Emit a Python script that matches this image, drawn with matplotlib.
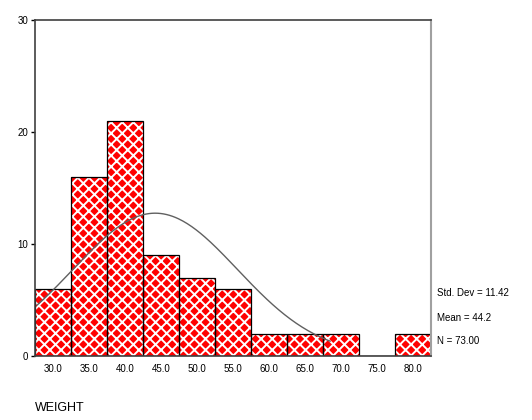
import numpy as np
import matplotlib.pyplot as plt

plt.rcParams['font.family'] = ['Liberation Sans', 'DejaVu Sans']
plt.rcParams['hatch.linewidth'] = 1.4

bin_centers = [30, 35, 40, 45, 50, 55, 60, 65, 70, 75, 80]
counts = [6, 16, 21, 9, 7, 6, 2, 2, 2, 0, 2]
tick_labels = ['30.0', '35.0', '40.0', '45.0', '50.0', '55.0', '60.0', '65.0', '70.0', '75.0', '80.0']
mean = 44.2
std_dev = 11.42
n = 73
bin_width = 5

fig = plt.figure(figsize=(5.32, 4.20), dpi=100)
ax = fig.add_axes([0.0658, 0.1524, 0.744, 0.800])

# filled bars with white cross hatch, then black outlines on top
ax.bar(bin_centers, counts, width=bin_width, color='#ff0000', edgecolor='white',
       hatch='xxx', linewidth=0)
ax.bar(bin_centers, counts, width=bin_width, fill=False, edgecolor='black', linewidth=0.9)

# normal curve
xs = np.linspace(27.8, 68.5, 200)
ys = n * bin_width / (std_dev * np.sqrt(2 * np.pi)) * np.exp(-0.5 * ((xs - mean) / std_dev) ** 2)
ax.plot(xs, ys, color='#606060', linewidth=1)

ax.set_xlim(27.5, 82.5)
ax.set_ylim(0, 30)
ax.set_xticks(bin_centers)
ax.set_xticklabels(tick_labels, fontsize=7)
ax.set_yticks([0, 10, 20, 30])
ax.set_yticklabels(['0', '10', '20', '30'], fontsize=7)
ax.tick_params(axis='y', length=3, width=1, pad=2)
ax.tick_params(axis='x', length=0, pad=6)

for side in ['top', 'left', 'bottom']:
    ax.spines[side].set_color('#404040')
    ax.spines[side].set_linewidth(1.2)
ax.spines['right'].set_color('#a0a0a0')
ax.spines['right'].set_linewidth(1.5)

fig.text(0.822, 0.302, 'Std. Dev = 11.42', fontsize=7, va='center')
fig.text(0.822, 0.243, 'Mean = 44.2', fontsize=7, va='center')
fig.text(0.822, 0.188, 'N = 73.00', fontsize=7, va='center')
fig.text(0.066, 0.028, 'WEIGHT', fontsize=9, va='center')

plt.savefig('out.png', dpi=100)
